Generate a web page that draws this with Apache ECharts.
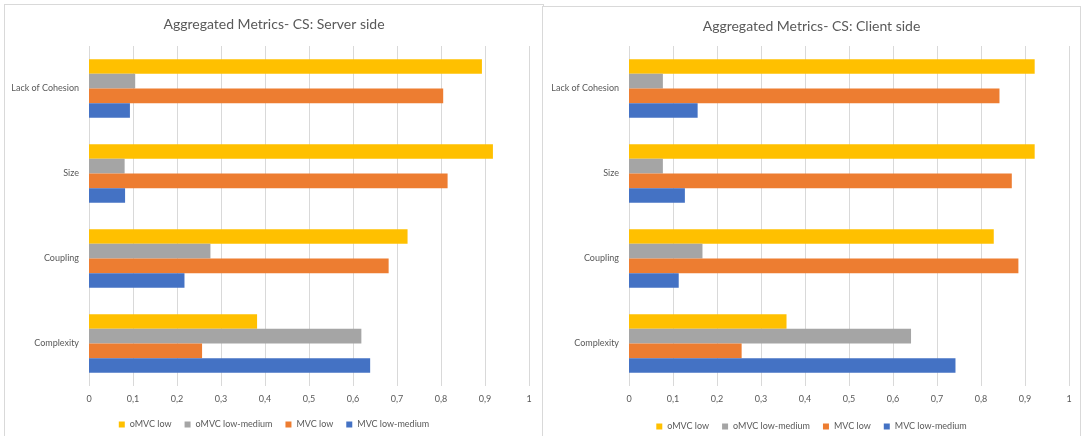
<!DOCTYPE html>
<html>
<head>
<meta charset="utf-8">
<script src="https://cdn.jsdelivr.net/npm/echarts@6/dist/echarts.min.js"></script>
<style>
  html, body { margin: 0; padding: 0; background: #fff; overflow: hidden; }
  .panel {
    position: absolute;
    border: 1px solid #d9d9d9;
    background: #fff;
  }
  #server { left: 4px; top: 4px; width: 538px; height: 440px; }
  #client { left: 542px; top: 6px; width: 537px; height: 440px; }
</style>
</head>
<body>
<div id="server" class="panel"></div>
<div id="client" class="panel"></div>
<script>
// categories bottom -> top (category axis starts at the bottom)
const categories = ['Complexity', 'Coupling', 'Size', 'Lack of Cohesion']
const legendNames = ['oMVC low', 'oMVC low-medium', 'MVC low', 'MVC low-medium']
const xTicks = { min: 0, max: 1, interval: 0.1 }

// Server side
const serverOmvcLow = [0.382, 0.724, 0.918, 0.893]
const serverOmvcLowMedium = [0.619, 0.276, 0.081, 0.105]
const serverMvcLow = [0.257, 0.681, 0.815, 0.805]
const serverMvcLowMedium = [0.639, 0.217, 0.082, 0.093]

// Client side
const clientOmvcLow = [0.358, 0.829, 0.922, 0.922]
const clientOmvcLowMedium = [0.641, 0.167, 0.077, 0.077]
const clientMvcLow = [0.256, 0.885, 0.870, 0.842]
const clientMvcLowMedium = [0.742, 0.113, 0.127, 0.156]

const colors = {
  'oMVC low': '#FFC000',
  'oMVC low-medium': '#A5A5A5',
  'MVC low': '#ED7D31',
  'MVC low-medium': '#4472C4'
}

const font = 'Lato, "Open Sans", sans-serif'

function render(el, title, values, gridLeft, gridTop) {
  const chart = echarts.init(el, null, { renderer: 'canvas' })
  // first series is drawn at the top of each group
  chart.setOption({
    animation: false,
    textStyle: { fontFamily: font },
    title: {
      text: title,
      left: 'center',
      top: 7,
      textStyle: { fontFamily: font, fontSize: 14, fontWeight: 'normal', color: '#595959' }
    },
    legend: {
      data: legendNames,
      top: 410,
      left: 'center',
      icon: 'rect',
      itemWidth: 6,
      itemHeight: 6,
      itemGap: 13,
      textStyle: { fontFamily: font, fontSize: 9, color: '#595959' }
    },
    grid: { left: gridLeft, top: gridTop, width: 440, height: 340 },
    xAxis: {
      type: 'value',
      min: xTicks.min,
      max: xTicks.max,
      interval: xTicks.interval,
      axisLine: { show: false },
      axisTick: { show: false },
      splitLine: { lineStyle: { color: '#d9d9d9', width: 1 } },
      axisLabel: {
        margin: 9,
        fontSize: 9,
        color: '#595959',
        fontFamily: font,
        formatter: (v) => String(Math.round(v * 10) / 10).replace('.', ',')
      }
    },
    yAxis: {
      type: 'category',
      data: categories,
      axisLine: { show: false },
      axisTick: { show: false },
      axisLabel: { margin: 10, fontSize: 9, color: '#595959', fontFamily: font }
    },
    series: legendNames.map((name) => ({
      name: name,
      type: 'bar',
      data: values[name],
      barGap: '0%',
      barCategoryGap: '31%',
      itemStyle: { color: colors[name] }
    }))
  })
  return chart
}

render(document.getElementById('server'), 'Aggregated Metrics- CS: Server side', {
  'oMVC low': serverOmvcLow,
  'oMVC low-medium': serverOmvcLowMedium,
  'MVC low': serverMvcLow,
  'MVC low-medium': serverMvcLowMedium
}, 84, 41)

render(document.getElementById('client'), 'Aggregated Metrics- CS: Client side', {
  'oMVC low': clientOmvcLow,
  'oMVC low-medium': clientOmvcLowMedium,
  'MVC low': clientMvcLow,
  'MVC low-medium': clientMvcLowMedium
}, 86, 39)
</script>
</body>
</html>
